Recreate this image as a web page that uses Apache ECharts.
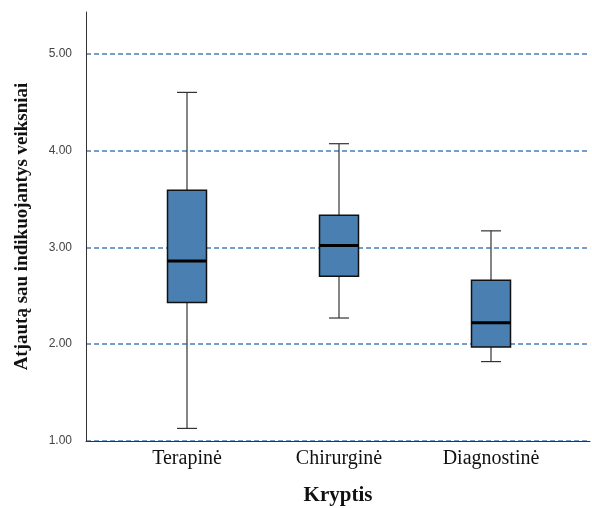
<!DOCTYPE html>
<html>
<head>
<meta charset="utf-8">
<script src="https://cdn.jsdelivr.net/npm/echarts@6/dist/echarts.min.js"></script>
<style>html,body{margin:0;padding:0;background:#fff}#c{width:592px;height:508px}</style>
</head>
<body>
<div id="c"></div>
<script>
var categories = ['Terapinė', 'Chirurginė', 'Diagnostinė'];
var whiskerLow = [1.13, 2.27, 1.82];
var q1 = [2.43, 2.70, 1.97];
var median = [2.86, 3.02, 2.22];
var q3 = [3.59, 3.33, 2.66];
var whiskerHigh = [4.60, 4.07, 3.17];
var yTicks = [1, 2, 3, 4, 5];

var data = categories.map(function (c, i) {
  return [i, whiskerLow[i], q1[i], median[i], q3[i], whiskerHigh[i]];
});

var chart = echarts.init(document.getElementById('c'));
var yMin = 1, yMax = 5.43;
chart.setOption({
  animation: false,
  grid: [
    {left: 86, right: 2, top: 12, bottom: 67, outerBoundsMode: 'none', containLabel: false},
    {left: 111, right: 25, top: 12, bottom: 67, outerBoundsMode: 'none', containLabel: false}
  ],
  xAxis: [
    {gridIndex: 0, type: 'value', min: 0, max: 1, show: true,
     axisLine: {show: true, onZero: false, lineStyle: {color: '#333', width: 1}},
     axisTick: {show: false}, axisLabel: {show: false}, splitLine: {show: false},
     name: 'Kryptis', nameLocation: 'middle', nameGap: 44,
     nameTextStyle: {fontFamily: 'Liberation Serif', fontWeight: 'bold', fontSize: 21, color: '#111'}},
    {gridIndex: 1, type: 'category', data: categories,
     axisLine: {show: false}, axisTick: {show: false}, splitLine: {show: false},
     axisLabel: {fontFamily: 'Liberation Serif', fontSize: 20, color: '#111', margin: 8}}
  ],
  yAxis: [
    {gridIndex: 0, type: 'value', min: yMin, max: yMax, interval: 1,
     axisLine: {show: true, lineStyle: {color: '#333', width: 1}},
     axisTick: {show: false},
     axisLabel: {showMaxLabel: false,
                 formatter: function (v) { return yTicks.indexOf(v) >= 0 ? v.toFixed(2) : ''; },
                 fontFamily: 'Liberation Sans', fontSize: 12, color: '#444', margin: 14},
     splitLine: {show: true, showMaxLine: false, lineStyle: {color: '#4a7fb8', width: 1.5, type: [5, 3]}},
     name: 'Atjautą sau indikuojantys veiksniai', nameLocation: 'middle', nameGap: 54,
     nameTextStyle: {fontFamily: 'Liberation Serif', fontWeight: 'bold', fontSize: 19, color: '#111'}},
    {gridIndex: 1, type: 'value', min: yMin, max: yMax, interval: 1, show: false}
  ],
  series: [{
    type: 'custom',
    xAxisIndex: 1, yAxisIndex: 1,
    data: data,
    renderItem: function (params, api) {
      var x = api.value(0);
      var pLow = api.coord([x, api.value(1)]);
      var pQ1 = api.coord([x, api.value(2)]);
      var pMed = api.coord([x, api.value(3)]);
      var pQ3 = api.coord([x, api.value(4)]);
      var pHigh = api.coord([x, api.value(5)]);
      var bw = 39, cw = 20;
      var cx = pLow[0];
      var ws = {stroke: '#333', lineWidth: 1.2};
      return {
        type: 'group',
        children: [
          {type: 'line', shape: {x1: cx, y1: pHigh[1], x2: cx, y2: pQ3[1]}, style: ws},
          {type: 'line', shape: {x1: cx, y1: pQ1[1], x2: cx, y2: pLow[1]}, style: ws},
          {type: 'line', shape: {x1: cx - cw / 2, y1: pHigh[1], x2: cx + cw / 2, y2: pHigh[1]}, style: ws},
          {type: 'line', shape: {x1: cx - cw / 2, y1: pLow[1], x2: cx + cw / 2, y2: pLow[1]}, style: ws},
          {type: 'rect', shape: {x: cx - bw / 2, y: pQ3[1], width: bw, height: pQ1[1] - pQ3[1]},
           style: {fill: '#4a7fb1', stroke: '#111', lineWidth: 1.5}},
          {type: 'line', shape: {x1: cx - bw / 2, y1: pMed[1], x2: cx + bw / 2, y2: pMed[1]},
           style: {stroke: '#000', lineWidth: 3}}
        ]
      };
    }
  }]
});
</script>
</body>
</html>
